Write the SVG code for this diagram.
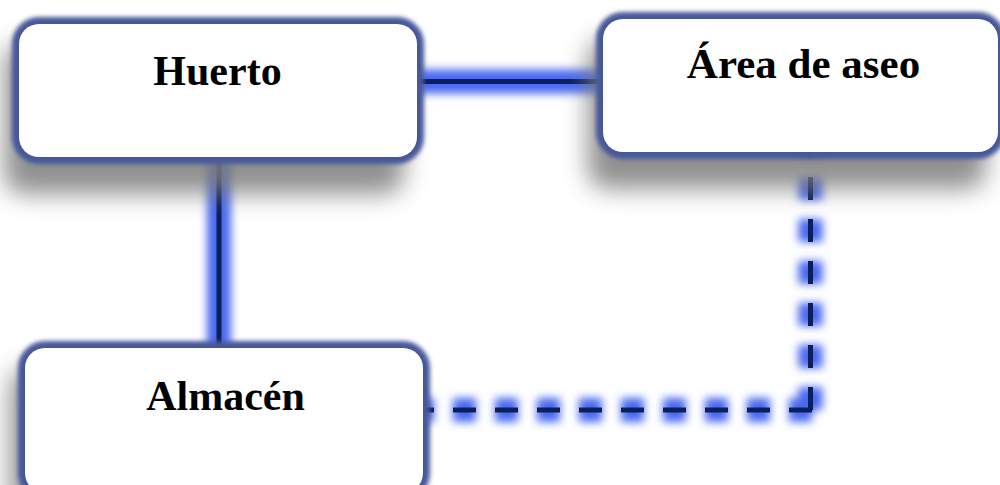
<svg xmlns="http://www.w3.org/2000/svg" width="1000" height="485" viewBox="0 0 1000 485">
  <defs>
    <filter id="shadow" filterUnits="userSpaceOnUse" x="-100" y="-100" width="1200" height="700">
      <feGaussianBlur stdDeviation="12"/>
    </filter>
    <filter id="soft" filterUnits="userSpaceOnUse" x="-100" y="-100" width="1200" height="700">
      <feGaussianBlur stdDeviation="2.2"/>
    </filter>
    <filter id="glow" filterUnits="userSpaceOnUse" x="-100" y="-100" width="1200" height="700">
      <feGaussianBlur stdDeviation="4.5"/>
    </filter>
  </defs>
  <style>
    .shadow { fill: #7d7d7d; opacity: 0.85; filter: url(#shadow); }
    .border { fill: none; stroke: #46589a; stroke-width: 14; filter: url(#soft); }
    .box { fill: #ffffff; }
    .label { font-family: "Liberation Serif", "Times New Roman", serif; font-weight: bold; font-size: 42px; fill: #000000; text-anchor: middle; }
    .glow { fill: none; stroke: #4868f0; stroke-width: 24; filter: url(#glow); }
    .line { fill: none; stroke: #0a1f5c; stroke-width: 5; }
    .dash { stroke-dasharray: 23 19; }
  </style>
  <rect width="1000" height="485" fill="#ffffff"/>

  <g id="connectors">
    <path class="glow" d="M417,81.5 H603"/>
    <path class="glow" d="M219,157 V348"/>
    <path class="glow dash" d="M810.5,410 V150 M812,410 H423"/>
    <path class="line" d="M417,81.5 H603"/>
    <path class="line" d="M219,157 V348"/>
    <path class="line dash" d="M810.5,410 V150 M812,410 H423"/>
  </g>

  <g id="huerto">
    <rect class="shadow" x="4" y="44" width="400" height="150" rx="20"/>
    <rect class="border" x="19" y="24" width="398" height="133" rx="20"/>
    <rect class="box" x="19" y="24" width="398" height="133" rx="20"/>
    <text class="label" x="217.5" y="85">Huerto</text>
  </g>

  <g id="area-de-aseo">
    <rect class="shadow" x="588" y="39" width="398" height="150" rx="20"/>
    <rect class="border" x="603" y="19" width="395" height="133" rx="20"/>
    <rect class="box" x="603" y="19" width="395" height="133" rx="20"/>
    <text class="label" x="803.5" y="78" style="font-size:43px">Área de aseo</text>
  </g>

  <g id="almacen">
    <rect class="shadow" x="10" y="368" width="400" height="150" rx="20"/>
    <rect class="border" x="25" y="348" width="398" height="145" rx="20"/>
    <rect class="box" x="25" y="348" width="398" height="145" rx="20"/>
    <text class="label" x="225.5" y="410">Almacén</text>
  </g>
</svg>
